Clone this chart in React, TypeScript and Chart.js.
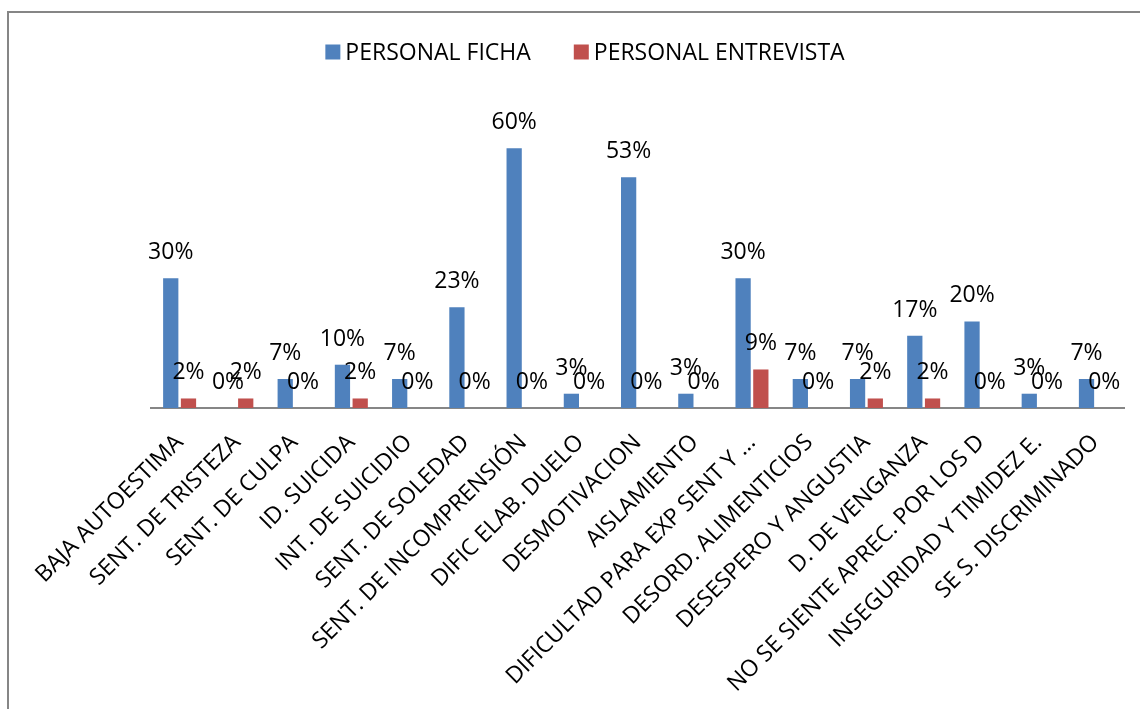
import React, { useEffect, useRef } from "react";
import { Chart, registerables } from "chart.js";

Chart.register(...registerables);

const categories = [
  "BAJA AUTOESTIMA",
  "SENT. DE TRISTEZA",
  "SENT. DE CULPA",
  "ID. SUICIDA",
  "INT. DE SUICIDIO",
  "SENT. DE SOLEDAD",
  "SENT. DE INCOMPRENSIÓN",
  "DIFIC ELAB. DUELO",
  "DESMOTIVACION",
  "AISLAMIENTO",
  "DIFICULTAD PARA EXP SENT Y ...",
  "DESORD. ALIMENTICIOS",
  "DESESPERO Y ANGUSTIA",
  "D. DE VENGANZA",
  "NO SE SIENTE APREC. POR LOS D",
  "INSEGURIDAD Y TIMIDEZ E.",
  "SE S. DISCRIMINADO",
];

const personalFicha = [
  0.3, 0, 0.067, 0.1, 0.067, 0.233, 0.6, 0.033, 0.533, 0.033, 0.3, 0.067, 0.067,
  0.167, 0.2, 0.033, 0.067,
];

const personalEntrevista = [
  0.022, 0.022, 0, 0.022, 0, 0, 0, 0, 0, 0, 0.089, 0, 0.022, 0.022, 0, 0, 0,
];

const seriesNames = ["PERSONAL FICHA", "PERSONAL ENTREVISTA"];
const seriesColors = ["#4F81BD", "#C0504D"];

const FONT = '"Open Sans", sans-serif';
const FONT_SIZE = 23;

const framePlugin = {
  id: "frame",
  beforeDraw(chart: any) {
    const ctx = chart.ctx;
    ctx.save();
    ctx.fillStyle = "#ffffff";
    ctx.fillRect(0, 0, chart.width, chart.height);
    ctx.strokeStyle = "#868686";
    ctx.lineWidth = 2;
    ctx.beginPath();
    ctx.moveTo(8, chart.height);
    ctx.lineTo(8, 12);
    ctx.lineTo(chart.width, 12);
    ctx.stroke();
    ctx.restore();
  },
};

const legendPlugin = {
  id: "topLegend",
  afterDraw(chart: any) {
    const ctx = chart.ctx;
    ctx.save();
    ctx.font = `${FONT_SIZE}px ${FONT}`;
    const box = 15;
    const gapBoxText = 5;
    const gapItems = 43;
    const items = chart.data.datasets.map((ds: any) => ({
      label: ds.label,
      color: ds.backgroundColor,
      w: ctx.measureText(ds.label).width,
    }));
    const total =
      items.reduce((s: number, it: any) => s + box + gapBoxText + it.w, 0) +
      gapItems * (items.length - 1);
    let x = 585 - total / 2;
    for (const it of items) {
      ctx.fillStyle = it.color;
      ctx.fillRect(x, 44.5, box, box);
      ctx.fillStyle = "#000000";
      ctx.textAlign = "left";
      ctx.textBaseline = "alphabetic";
      ctx.fillText(it.label, x + box + gapBoxText, 59.5);
      x += box + gapBoxText + it.w + gapItems;
    }
    ctx.restore();
  },
};

const valueLabelPlugin = {
  id: "valueLabels",
  afterDatasetsDraw(chart: any) {
    const ctx = chart.ctx;
    ctx.save();
    ctx.font = `${FONT_SIZE}px ${FONT}`;
    ctx.fillStyle = "#000000";
    ctx.textAlign = "center";
    ctx.textBaseline = "alphabetic";
    chart.data.datasets.forEach((ds: any, di: number) => {
      const meta = chart.getDatasetMeta(di);
      meta.data.forEach((bar: any, i: number) => {
        const v = ds.data[i];
        ctx.fillText(Math.round(v * 100) + "%", bar.x, bar.y - 19);
      });
    });
    ctx.restore();
  },
};

export default function App() {
  const canvasRef = useRef<HTMLCanvasElement | null>(null);

  useEffect(() => {
    if (!canvasRef.current) return;
    const chart = new Chart(canvasRef.current, {
      type: "bar",
      data: {
        labels: categories,
        datasets: [
          {
            label: seriesNames[0],
            data: personalFicha,
            backgroundColor: seriesColors[0],
            borderWidth: 0,
            categoryPercentage: 0.62,
            barPercentage: 0.86,
          },
          {
            label: seriesNames[1],
            data: personalEntrevista,
            backgroundColor: seriesColors[1],
            borderWidth: 0,
            categoryPercentage: 0.62,
            barPercentage: 0.86,
          },
        ],
      },
      options: {
        responsive: false,
        animation: false,
        events: [],
        layout: {
          padding: { left: 151, right: 16, top: 105, bottom: 0 },
        },
        plugins: {
          legend: { display: false },
          tooltip: { enabled: false },
          title: { display: false },
        },
        scales: {
          x: {
            grid: { display: false, drawTicks: false },
            border: { display: true, color: "#868686", width: 2 },
            ticks: {
              autoSkip: false,
              maxRotation: 45,
              minRotation: 45,
              padding: 21,
              color: "#000000",
              font: { family: FONT, size: FONT_SIZE },
            },
            afterFit(scale: any) {
              scale.height = 301;
            },
          },
          y: {
            display: false,
            min: 0,
            max: 0.7,
          },
        },
      },
      plugins: [framePlugin, legendPlugin, valueLabelPlugin],
    });
    return () => chart.destroy();
  }, []);

  return (
    <div
      style={{
        position: "absolute",
        left: 0,
        top: 0,
        width: 1140,
        height: 709,
        overflow: "hidden",
        background: "#fff",
      }}
    >
      <canvas
        ref={canvasRef}
        width={1140}
        height={709}
        style={{ display: "block", width: 1140, height: 709 }}
      />
    </div>
  );
}
